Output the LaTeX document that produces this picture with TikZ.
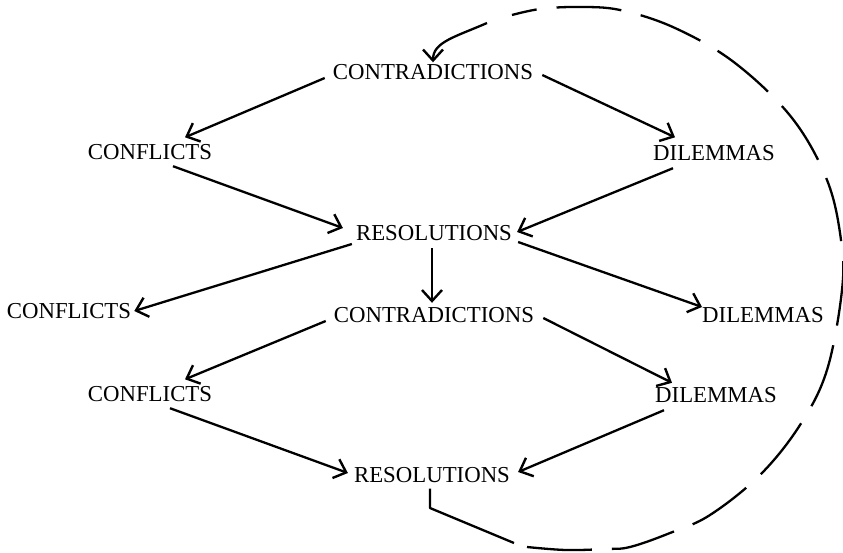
\documentclass[tikz,border=0pt]{standalone}
\usepackage{fontspec}
\setmainfont{Liberation Serif}
\usetikzlibrary{arrows.meta,calc}
\tikzset{
  word/.style={inner sep=0pt, text height=15pt, text depth=0pt, font=\fontsize{22.8}{24}\selectfont},
  barb/.tip={Straight Barb[length=11pt,width=20pt,line width=2.4pt]},
  arr/.style={line width=2.3pt, -barb},
  loopline/.style={line width=2.3pt},
  loopdash/.style={line width=2.3pt, dash pattern=on 65pt off 20pt}
}
\begin{document}
\begin{tikzpicture}[x=1pt,y=-1pt]
\useasboundingbox (0,0) rectangle (843,552);
\node[word] (ct1) at (433,72) {CONTRADICTIONS};
\node[word] (cf2) at (150,152) {CONFLICTS};
\node[word] (di2) at (714,153) {DILEMMAS};
\node[word] (rs3) at (434,233) {RESOLUTIONS};
\node[word] (cf4) at (69,311) {CONFLICTS};
\node[word] (ct4) at (434,315) {CONTRADICTIONS};
\node[word] (di4) at (763,315) {DILEMMAS};
\node[word] (cf5) at (150,394) {CONFLICTS};
\node[word] (di5) at (716,395) {DILEMMAS};
\node[word] (rs6) at (432,475) {RESOLUTIONS};

\draw[arr] ($(ct1.west)+(-8,6)$) -- ($(cf2.north)+(35,-7)$);
\draw[arr] ($(ct1.east)+(9,3)$) -- ($(di2.north)+(-39,-8)$);
\draw[arr] ($(cf2.south)+(23,6.5)$) -- ($(rs3.west)+(-13,-5)$);
\draw[arr] ($(di2.south)+(-41,7.5)$) -- ($(rs3.east)+(5,-1)$);
\draw[arr] ($(rs3.west)+(-4,11)$) -- ($(cf4.east)+(3,0)$);
\draw[arr] ($(rs3.south)+(-2,7.5)$) -- ($(ct4.north)+(-2,-4.5)$);
\draw[arr] ($(rs3.east)+(6,9)$) -- ($(di4.west)+(0,-8)$);
\draw[arr] ($(ct4.west)+(-8,6)$) -- ($(cf5.north)+(35,-7)$);
\draw[arr] ($(ct4.east)+(9,3)$) -- ($(di5.north)+(-44,-4.5)$);
\draw[arr] ($(cf5.south)+(20,6.5)$) -- ($(rs6.west)+(-6,-2)$);
\draw[arr] ($(di5.south)+(-52,7.5)$) -- ($(rs6.east)+(8,-3)$);

% feedback loop
\coordinate (l0) at ($(rs6.south)+(-2,6)$);
\coordinate (l1) at (430,508);
\coordinate (l2) at (514,543);
\coordinate (l3) at (487,23);
\draw[loopline, line join=round] (l0) -- (l1) -- (l2);
\draw[loopdash] plot[smooth, tension=0.6] coordinates {(527,547) (566,550) (605,549) (630,547) (670,533) (710,515) (760,475) (800,425) (827,370) (842,290) (841,240) (827,180) (792,118) (735,63) (675,28) (620,10) (577,7) (540,9) (512,15)};
\draw[loopline, -barb] (l3) .. controls (455,37) and (433,42) .. ($(ct1.north)+(0,-2)$);
\end{tikzpicture}
\end{document}
